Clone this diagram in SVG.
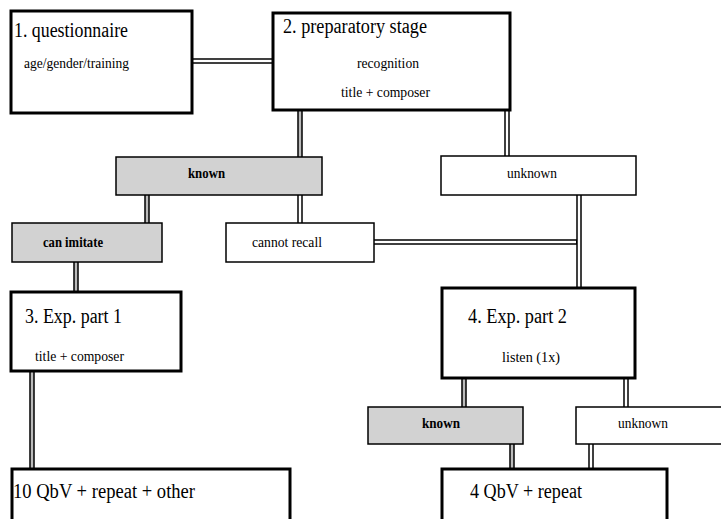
<svg xmlns="http://www.w3.org/2000/svg" width="721" height="519" viewBox="0 0 721 519">
<style>
.main{fill:#fff;stroke:#000;stroke-width:3}
.small{fill:#fff;stroke:#000;stroke-width:1.5}
.gray{fill:#d2d2d2;stroke:#000;stroke-width:1.5}
.t{font-family:"Liberation Serif","Times New Roman",serif;fill:#000}
.big{font-size:20px}
.sm{font-size:15px}
.b{font-size:15px;font-weight:bold}
.co{fill:none;stroke:#000;stroke-width:5.5}
.ci{fill:none;stroke:#fff;stroke-width:2.5}
.cg{fill:none;stroke:#bbb;stroke-width:2.5}
</style>
<rect width="721" height="519" fill="#fff"/>
<g id="connectors">
<path class="co" d="M192,61H273 M300,110V157 M507,110V156 M147,195V223 M300,195V223 M579,195V288 M374,242H579 M76,262V292 M32,371V469 M464,378V407 M626,378V407 M512,444V469 M591,444V469"/>
<path class="ci" d="M192,61H273 M507,110V156 M300,195V223 M579,195V288 M374,242H576 M626,378V407 M591,444V469"/>
<path class="cg" d="M300,110V157 M147,195V223 M76,262V292 M32,371V469 M464,378V407 M512,444V469"/>
</g>
<g id="n1">
<rect class="main" x="11" y="11" width="181" height="102"/>
<text class="t big" x="14" y="37" textLength="114" lengthAdjust="spacingAndGlyphs">1. questionnaire</text>
<text class="t sm" x="24" y="68" textLength="105" lengthAdjust="spacingAndGlyphs">age/gender/training</text>
</g>
<g id="n2">
<rect class="main" x="273" y="13" width="237" height="97"/>
<text class="t big" x="283" y="33" textLength="144" lengthAdjust="spacingAndGlyphs">2. preparatory stage</text>
<text class="t sm" x="357" y="68" textLength="62" lengthAdjust="spacingAndGlyphs">recognition</text>
<text class="t sm" x="341" y="97" textLength="89" lengthAdjust="spacingAndGlyphs">title + composer</text>
</g>
<g id="known1">
<rect class="gray" x="116" y="157" width="206" height="38"/>
<text class="t b" x="188" y="178" textLength="37" lengthAdjust="spacingAndGlyphs">known</text>
</g>
<g id="unknown1">
<rect class="small" x="441" y="156" width="195" height="39"/>
<text class="t sm" x="507" y="178" textLength="50" lengthAdjust="spacingAndGlyphs">unknown</text>
</g>
<g id="canimitate">
<rect class="gray" x="12" y="223" width="150" height="39"/>
<text class="t b" x="43" y="247" textLength="60" lengthAdjust="spacingAndGlyphs">can imitate</text>
</g>
<g id="cannotrecall">
<rect class="small" x="226" y="223" width="148" height="39"/>
<text class="t sm" x="252" y="247" textLength="70" lengthAdjust="spacingAndGlyphs">cannot recall</text>
</g>
<g id="n3">
<rect class="main" x="11" y="292" width="170" height="79"/>
<text class="t big" x="25" y="323" textLength="97" lengthAdjust="spacingAndGlyphs">3. Exp. part 1</text>
<text class="t sm" x="35" y="361" textLength="89" lengthAdjust="spacingAndGlyphs">title + composer</text>
</g>
<g id="n4">
<rect class="main" x="442" y="288" width="193" height="90"/>
<text class="t big" x="468" y="323" textLength="99" lengthAdjust="spacingAndGlyphs">4. Exp. part 2</text>
<text class="t sm" x="502" y="362" textLength="58" lengthAdjust="spacingAndGlyphs">listen (1x)</text>
</g>
<g id="known2">
<rect class="gray" x="368" y="407" width="155" height="37"/>
<text class="t b" x="422" y="428" textLength="38" lengthAdjust="spacingAndGlyphs">known</text>
</g>
<g id="unknown2">
<rect class="small" x="576" y="407" width="160" height="37"/>
<text class="t sm" x="618" y="428" textLength="50" lengthAdjust="spacingAndGlyphs">unknown</text>
</g>
<g id="n10">
<rect class="main" x="12" y="469" width="278" height="70"/>
<text class="t big" x="13" y="498" textLength="182" lengthAdjust="spacingAndGlyphs">10 QbV + repeat + other</text>
</g>
<g id="n4q">
<rect class="main" x="442" y="469" width="225" height="70"/>
<text class="t big" x="470" y="498" textLength="112" lengthAdjust="spacingAndGlyphs">4 QbV + repeat</text>
</g>
</svg>
